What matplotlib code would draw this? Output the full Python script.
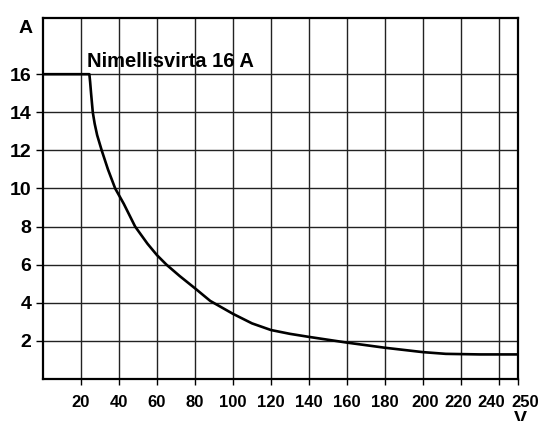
import matplotlib
matplotlib.use('Agg')
import matplotlib.pyplot as plt
from matplotlib.transforms import ScaledTranslation

plt.rcParams['font.family'] = ['Liberation Sans', 'DejaVu Sans']

# curve: voltage (V) vs current (A)
volts = [0, 24.4, 24.8, 25.3, 26.2, 27.2, 28.5, 30.9, 34.2, 38, 42.5, 48.5, 55, 60, 65, 72,
         80, 88, 100, 110, 120, 130, 140, 160, 180, 200, 212, 230, 250]
amps = [16, 16, 15.6, 15, 14, 13.4, 12.8, 12, 11, 10, 9.2, 8, 7.1, 6.5, 6.0, 5.4,
        4.76, 4.1, 3.42, 2.92, 2.57, 2.37, 2.21, 1.91, 1.64, 1.41, 1.32, 1.29, 1.29]
xticks = [20, 40, 60, 80, 100, 120, 140, 160, 180, 200, 220, 240, 250]
yticks = [2, 4, 6, 8, 10, 12, 14, 16]
label = 'Nimellisvirta 16 A'

fig = plt.figure(figsize=(5.44, 4.21), dpi=100)
ax = fig.add_axes([43/544, 1-379/421, 475/544, 361/421])

for x in xticks[:-1]:
    ax.axvline(x, color='#222222', lw=1.0, zorder=1)
for y in yticks:
    ax.axhline(y, color='#222222', lw=1.0, zorder=1)

ax.plot(volts, amps, color='black', lw=1.9, zorder=3, solid_joinstyle='round')

ax.set_xlim(0, 250)
ax.set_ylim(0, 18.95)
ax.set_xticks(xticks)
ax.set_yticks(yticks)
ax.set_xticklabels([str(t) for t in xticks], fontsize=12, fontweight='bold')
ax.set_yticklabels([str(t) for t in yticks], fontsize=14, fontweight='bold')
ax.tick_params(axis='x', length=4.5, width=1.0, pad=7)
ax.tick_params(axis='y', length=4.8, width=1.0, pad=3.5)
for s in ax.spines.values():
    s.set_linewidth(1.6)

# nudge crowded labels at the right end like the original
shifts = {200: 2, 220: -3, 240: -8, 250: 7}
for t, lab in zip(xticks, ax.get_xticklabels()):
    if t in shifts:
        lab.set_transform(lab.get_transform() + ScaledTranslation(shifts[t]/100, 0, fig.dpi_scale_trans))

ax.text(23, 16.4, label, fontsize=14.5, fontweight='bold', va='baseline', ha='left')
fig.text(25.5/544, 1-33/421, 'A', fontsize=14, fontweight='bold', ha='center', va='baseline')
fig.text(520/544, 1-411/421, 'V', fontsize=14, fontweight='bold', ha='center', va='top')

fig.savefig('out.png', dpi=100)
